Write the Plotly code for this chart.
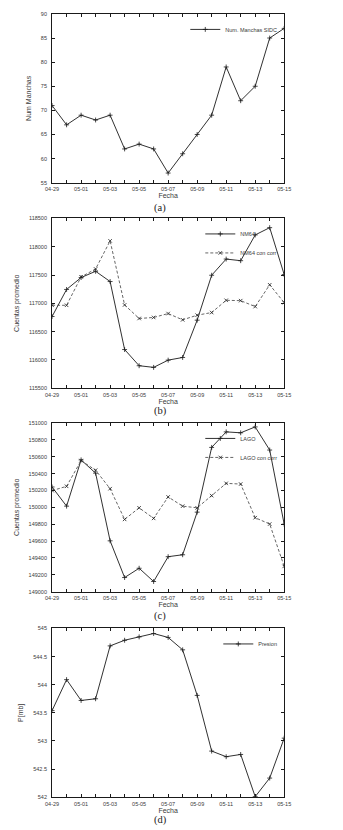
import plotly.graph_objects as go

# ---------------- data ----------------
fechas = ["04-29", "04-30", "05-01", "05-02", "05-03", "05-04", "05-05", "05-06",
          "05-07", "05-08", "05-09", "05-10", "05-11", "05-12", "05-13", "05-14", "05-15"]

manchas_sidc = [71, 67, 69, 68, 69, 62, 63, 62, 57, 61, 65, 69, 79, 72, 75, 85, 87]

nm64 = [116767, 117245, 117455, 117566, 117385, 116183, 115897, 115868, 115996,
        116043, 116702, 117496, 117782, 117753, 118208, 118337, 117508]
nm64_corr = [116965, 116965, 117467, 117607, 118103, 116971, 116732, 116750, 116819,
             116708, 116790, 116837, 117053, 117047, 116942, 117327, 117012]

lago = [150241, 150014, 150562, 150405, 149603, 149168, 149278, 149121, 149415,
        149438, 149943, 150710, 150894, 150883, 150953, 150679, 149800]
lago_corr = [150198, 150249, 150554, 150440, 150221, 149857, 149994, 149869, 150123,
             150014, 149994, 150139, 150284, 150276, 149877, 149802, 149300]

presion = [543.54, 544.09, 543.72, 543.75, 544.69, 544.79, 544.85, 544.91, 544.84,
           544.62, 543.81, 542.82, 542.72, 542.76, 542.01, 542.34, 543.05]

tick_labels = [f if i % 2 == 0 else "" for i, f in enumerate(fechas)]
captions = ["(a)", "(b)", "(c)", "(d)"]

# ---------------- layout helpers ----------------
W, H = 343, 830
x0, x1 = 47, 289
panels = [(11, 181), (217, 388), (423, 593), (630, 800)]  # top, bottom in px
caption_y = [206, 411, 617, 830]
caption_anchor = ["middle", "middle", "middle", "bottom"]
ytitles = ["Num Manchas", "Cuentas promedio", "Cuentas promedio", "P[mb]"]
yranges = [(55, 90), (115500, 118500), (149000, 151000), (542, 545)]
ydticks = [5, 500, 200, 0.5]
yformats = ["d", "d", "d", ""]

FONT = "Liberation Sans"
INK = "#1a1a1a"
GREY = "#3a3a3a"

fig = go.Figure()

def add_line(name, y, idx, dashed, symbol, legend):
    fig.add_trace(go.Scatter(
        x=fechas, y=y, name=name, mode="lines+markers",
        xaxis="x" if idx == 0 else f"x{idx+1}",
        yaxis="y" if idx == 0 else f"y{idx+1}",
        line=dict(color="#555" if dashed else INK, width=0.9,
                  dash="3px,2px" if dashed else "solid"),
        marker=dict(symbol=symbol, size=3.5, color=INK,
                    line=dict(width=0.8, color=INK)),
        legend=legend,
    ))

add_line("Num. Manchas SIDC", manchas_sidc, 0, False, "cross-thin-open", "legend")
add_line("NM64", nm64, 1, False, "cross-thin-open", "legend2")
add_line("NM64 con corr", nm64_corr, 1, True, "x-thin-open", "legend2")
add_line("LAGO", lago, 2, False, "cross-thin-open", "legend3")
add_line("LAGO con corr", lago_corr, 2, True, "x-thin-open", "legend3")
add_line("Presion", presion, 3, False, "cross-thin-open", "legend4")

layout = dict(
    width=W, height=H, autosize=False,
    margin=dict(l=0, r=0, t=0, b=0),
    paper_bgcolor="white", plot_bgcolor="white",
    font=dict(family=FONT, color=INK, size=6),
    showlegend=True,
)

annotations = []
for i, (top, bot) in enumerate(panels):
    xa = "xaxis" if i == 0 else f"xaxis{i+1}"
    ya = "yaxis" if i == 0 else f"yaxis{i+1}"
    anchor_x = "y" if i == 0 else f"y{i+1}"
    anchor_y = "x" if i == 0 else f"x{i+1}"
    layout[xa] = dict(
        domain=[x0 / W, x1 / W], anchor=anchor_x, type="category",
        range=[0, len(fechas) - 1],
        tickmode="array", tickvals=fechas, ticktext=tick_labels,
        ticks="inside", ticklen=3, tickwidth=0.8, tickcolor=INK,
        showline=True, linecolor=INK, linewidth=1, mirror="allticks",
        showgrid=False, zeroline=False, ticklabelstandoff=1,
        tickfont=dict(size=5.5, family=FONT, color=GREY),
        title=dict(text="Fecha", font=dict(size=7, family=FONT, color=GREY), standoff=0),
    )
    lo, hi = yranges[i]
    layout[ya] = dict(
        domain=[1 - bot / H, 1 - top / H], anchor=anchor_y,
        range=[lo, hi], dtick=ydticks[i], tick0=lo,
        tickformat=yformats[i], exponentformat="none", separatethousands=False,
        ticks="inside", ticklen=3, tickwidth=0.8, tickcolor=INK,
        showline=True, linecolor=INK, linewidth=1, mirror="allticks",
        showgrid=False, zeroline=False, ticklabelstandoff=3,
        tickfont=dict(size=5.5, family=FONT, color=GREY),
        title=dict(text=ytitles[i], font=dict(size=7, family=FONT, color=GREY), standoff=8),
    )
    leg = "legend" if i == 0 else f"legend{i+1}"
    layout[leg] = dict(
        x=(x1 - 2) / W, xanchor="right", y=1 - (top + 1) / H, yanchor="top",
        bgcolor="rgba(0,0,0,0)", borderwidth=0,
        font=dict(size=5.5, family=FONT, color=GREY),
        itemwidth=30, tracegroupgap=0,
    )
    annotations.append(dict(
        text=captions[i], xref="paper", yref="paper",
        x=160 / W, y=1 - caption_y[i] / H, xanchor="center", yanchor=caption_anchor[i],
        showarrow=False, borderpad=0,
        font=dict(size=10.5, family="Liberation Serif", color="#222"),
    ))

layout["annotations"] = annotations
fig.update_layout(**layout)
fig.write_html(
    "out.html",
    config={"displayModeBar": False},
    post_script="document.body.style.margin='0';document.body.style.overflow='hidden';",
)
